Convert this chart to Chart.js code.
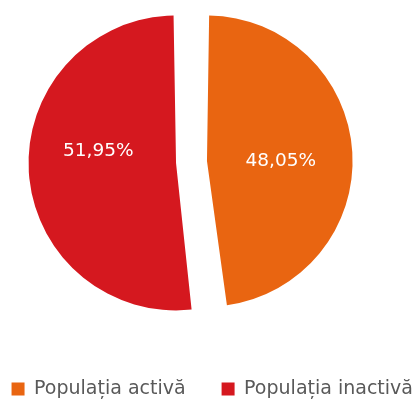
<!DOCTYPE html>
<html>
<head>
<meta charset="utf-8">
<style>
  html, body { margin: 0; padding: 0; background: #fff; }
  #wrap { width: 416px; height: 401px; position: relative; }
</style>
</head>
<body>
<div id="wrap"><canvas id="pieChart"></canvas></div>

<script src="https://cdn.jsdelivr.net/npm/chart.js@4.4.6/dist/chart.umd.min.js"></script>
<script>
// datos
const categorii = ['Populația activă', 'Populația inactivă'];
const procente = [48.05, 51.95];
const culori = ['#E96511', '#D5181F'];

// zona pentru pie (separata de legenda, care e centrata pe toata latimea)
const zonaPie = {
  id: 'zonaPie',
  afterLayout(chart, args, opts) {
    const a = chart.chartArea;
    a.left = opts.left; a.top = opts.top;
    a.right = opts.right; a.bottom = opts.bottom;
    a.width = a.right - a.left;
    a.height = a.bottom - a.top;
  }
};

// etichete pe felii (valoare cu virgula)
const etichetePlugin = {
  id: 'etichete',
  afterDatasetsDraw(chart, args, opts) {
    const ctx = chart.ctx;
    const meta = chart.getDatasetMeta(0);
    ctx.save();
    ctx.font = opts.font;
    ctx.fillStyle = opts.color;
    ctx.textAlign = 'center';
    ctx.textBaseline = 'middle';
    meta.data.forEach((arc, i) => {
      const mid = (arc.startAngle + arc.endAngle) / 2;
      const off = (arc.options.offset || 0) / 4;
      const dist = off + arc.outerRadius * 0.56;
      const n = opts.nudge[i] || [0, 0];
      const x = arc.x + Math.cos(mid) * dist + n[0];
      const y = arc.y + Math.sin(mid) * dist + n[1];
      const txt = procente[i].toFixed(2).replace('.', ',') + '%';
      ctx.fillText(txt, x, y);
    });
    ctx.restore();
  }
};

const chart = new Chart(document.getElementById('pieChart'), {
  type: 'pie',
  data: {
    labels: categorii,
    datasets: [{
      data: procente,
      backgroundColor: culori,
      borderWidth: 0,
      offset: 62,
      clip: false
    }]
  },
  options: {
    responsive: true,
    maintainAspectRatio: false,
    animation: false,
    events: [],
    radius: 132,
    layout: {
      padding: { left: -30, right: -38.5, top: 0, bottom: -7.5 }
    },
    plugins: {
      tooltip: { enabled: false },
      zonaPie: { left: 0, top: 0, right: 383, bottom: 324 },
      legend: {
        position: 'bottom',
        align: 'center',
        labels: {
          boxWidth: 13,
          boxHeight: 13,
          padding: 36,
          color: '#595959',
          font: { family: 'DejaVu Sans', size: 19 }
        }
      },
      etichete: {
        font: '18.5px "DejaVu Sans"',
        color: '#FFFFFF',
        nudge: [[0, 4.5], [-4, -16.5]]
      }
    }
  },
  plugins: [zonaPie, etichetePlugin]
});
</script>
</body>
</html>
